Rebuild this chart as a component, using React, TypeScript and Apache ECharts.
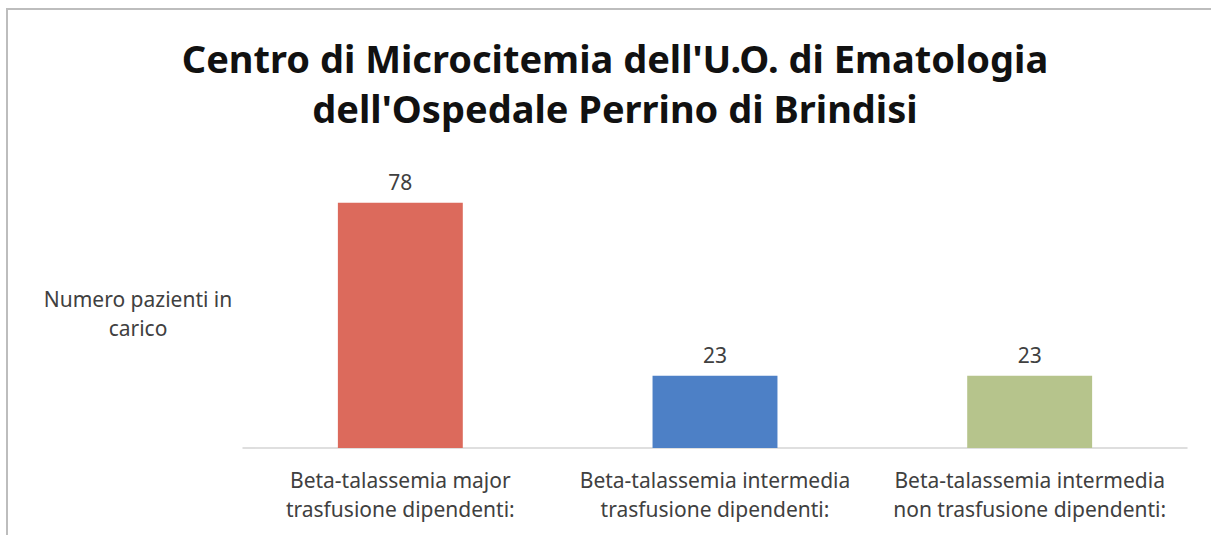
import React, { useEffect, useRef } from "react";
import * as echarts from "echarts";

const titleText = "Centro di Microcitemia dell'U.O. di Ematologia\ndell'Ospedale Perrino di Brindisi";
const seriesName = "Numero pazienti in carico";
const categories = [
  "Beta-talassemia major\ntrasfusione dipendenti:",
  "Beta-talassemia intermedia\ntrasfusione dipendenti:",
  "Beta-talassemia intermedia\nnon trasfusione dipendenti:",
];
const values = [78, 23, 23];
const barColors = ["#DC6A5C", "#4D80C6", "#B6C48C"];

export default function App() {
  const ref = useRef<HTMLDivElement>(null);
  useEffect(() => {
    if (!ref.current) return;
    const chart = echarts.init(ref.current, undefined, { renderer: "svg" });
    chart.setOption({
      animation: false,
      backgroundColor: "#ffffff",
      title: {
        text: titleText,
        left: 610,
        textAlign: "center",
        top: 28,
        textStyle: {
          fontFamily: "Noto Sans",
          fontWeight: "bold",
          fontSize: 38,
          lineHeight: 50,
          color: "#111111",
        },
      },
      graphic: [
        {
          type: "rect",
          shape: { x: 7, y: 9, width: 1220, height: 540 },
          style: { fill: "none", stroke: "#BDBDBD", lineWidth: 2 },
          silent: true,
        },
        {
          type: "text",
          x: 138,
          y: 313,
          style: {
            text: "Numero pazienti in\ncarico",
            textAlign: "center",
            textVerticalAlign: "middle",
            fontFamily: "Noto Sans",
            fontSize: 21,
            lineHeight: 29,
            fill: "#404040",
          },
        },
      ],
      grid: { left: 243, right: 24, top: 165, bottom: 87, containLabel: false },
      xAxis: {
        type: "category",
        data: categories,
        axisLine: { lineStyle: { color: "#D4D4D4", width: 1.5 } },
        axisTick: { show: false },
        axisLabel: {
          interval: 0,
          margin: 17,
          fontFamily: "Noto Sans",
          fontSize: 21,
          lineHeight: 29,
          color: "#404040",
          align: "center",
        },
      },
      yAxis: {
        type: "value",
        min: 0,
        max: 90,
        show: false,
        splitLine: { show: false },
      },
      series: [
        {
          name: seriesName,
          type: "bar",
          barWidth: "39.7%",
          data: values.map((v, i) => ({ value: v, itemStyle: { color: barColors[i] } })),
          label: {
            show: true,
            position: "top",
            distance: 10,
            fontFamily: "Noto Sans",
            fontSize: 21,
            color: "#404040",
          },
        },
      ],
    });
    return () => chart.dispose();
  }, []);
  return (
    <div
      ref={ref}
      style={{ position: "fixed", left: 0, top: 0, width: 1211, height: 535 }}
    />
  );
}
